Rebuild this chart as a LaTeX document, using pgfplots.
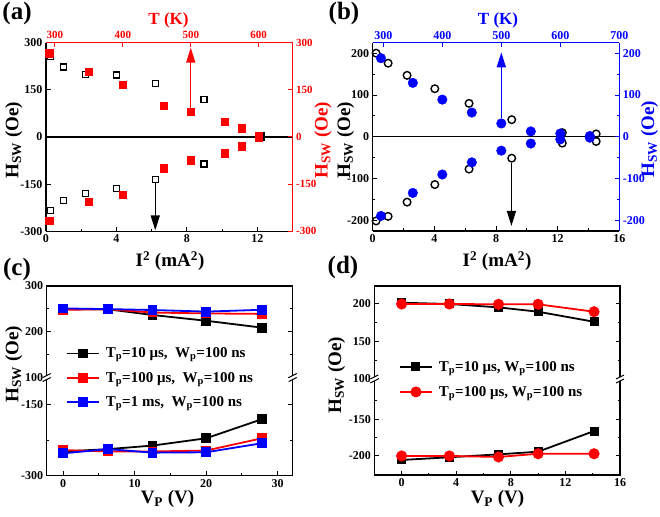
\documentclass[border=0pt]{standalone}
\usepackage{pgfplots}
\pgfplotsset{compat=1.18}
\usepackage{fontspec}
\setmainfont{Liberation Serif}
\usetikzlibrary{arrows.meta}
\definecolor{ored}{RGB}{255,0,0}
\definecolor{oblue}{RGB}{0,0,255}
\newcommand{\tkf}{\fontsize{12}{13}\selectfont\bfseries}
\newcommand{\tks}{\fontsize{11}{12}\selectfont\bfseries}
\newcommand{\lbf}{\fontsize{19}{20}\selectfont\bfseries}
\newcommand{\pnf}{\fontsize{25}{26}\selectfont\bfseries}
\newcommand{\lgf}{\fontsize{15}{16}\selectfont\bfseries}
\newcommand{\Hsw}{H\textsubscript{SW} (Oe)}
\pgfplotsset{
  base/.style={scale only axis, anchor=south west, tick align=inside,
    /pgf/number format/assume math mode=true,
    ticklabel style={font=\tkf},
    axis line style={line width=1.3pt},
    every tick/.style={line width=1pt},
    major tick length=4.5pt, minor tick length=2.5pt,
    clip=false},
  legimg/.style={legend image code/.code={
      \draw[##1,mark repeat=2,mark phase=2] plot coordinates {(0pt,0pt) (16pt,0pt) (32pt,0pt)};}},
  broken/.style={separate axis lines, axis line style={draw=none}},
}
\begin{document}
\begin{tikzpicture}[x=1pt,y=1pt]
\path[use as bounding box] (0,0) rectangle (660,516);

% ---------------- (a) ----------------
\begin{axis}[base, at={(46pt,284.7pt)}, width=246.7pt, height=188.7pt,
  xmin=0, xmax=14, ymin=-300, ymax=300,
  axis x line*=bottom, axis y line*=left,
  xtick={0,4,8,12}, minor xtick={2,6,10},
  ytick={-300,-150,0,150,300}]
  \draw[line width=1.2pt] (axis cs:0,0) -- (axis cs:14,0);
  \addplot[only marks, mark=square, mark size=3pt, line width=1.3pt, black] coordinates {
    (0.26,255) (1.0,222) (2.25,198) (4.0,197) (6.2,169) (8.96,119) (12.2,4)
    (0.26,-233) (1.0,-201) (2.25,-179) (4.0,-165) (6.2,-136) (8.96,-86) (12.2,-2)};
  \draw[line width=1.4pt, -{Triangle[length=15pt,width=9pt]}] (axis cs:6.2,-146) -- (axis cs:6.2,-297);
\end{axis}
\begin{axis}[base, at={(46pt,284.7pt)}, width=246.7pt, height=188.7pt,
  xmin=287, xmax=650, ymin=-300, ymax=300,
  axis x line*=top, axis y line*=right,
  axis line style={ored}, every tick/.append style={ored},
  ticklabel style={font=\tks, text=ored},
  xtick={300,400,500,600}, ytick={-300,-150,0,150,300}]
  \addplot[only marks, mark=square*, mark size=3.8pt, ored] coordinates {
    (292,266) (350,207) (400,166) (460,99) (500,80) (550,48) (575,28) (600,2)
    (292,-266) (350,-206) (400,-184) (460,-100) (500,-74) (550,-52) (575,-29) (600,-2)};
  \draw[ored, line width=1.4pt, -{Triangle[length=15pt,width=9pt]}] (axis cs:500,88) -- (axis cs:500,284);
\end{axis}

% ---------------- (b) ----------------
\begin{axis}[base, at={(372.7pt,285pt)}, width=246.6pt, height=188.3pt,
  xmin=0, xmax=16, ymin=-225, ymax=225,
  axis x line*=bottom, axis y line*=left,
  xtick={0,4,8,12,16}, minor xtick={2,6,10,14},
  ytick={-200,-100,0,100,200}, minor ytick={-150,-50,50,150}]
  \draw[line width=1.2pt] (axis cs:0,0) -- (axis cs:16,0);
  \addplot[only marks, mark=o, mark size=3.8pt, line width=1.4pt, black] coordinates {
    (0.22,200) (1.0,176) (2.23,147) (4.03,115) (6.25,80) (9.02,41) (12.3,10) (14.5,7)
    (0.22,-201) (1.0,-190) (2.23,-156) (4.03,-114) (6.25,-77) (9.02,-51) (12.3,-15) (14.5,-11)};
  \draw[line width=1.4pt, -{Triangle[length=15pt,width=9pt]}] (axis cs:9.0,-62) -- (axis cs:9.0,-213);
\end{axis}
\begin{axis}[base, at={(372.7pt,285pt)}, width=246.6pt, height=188.3pt,
  xmin=282, xmax=700, ymin=-225, ymax=225,
  axis x line*=top, axis y line*=right,
  axis line style={oblue}, every tick/.append style={oblue},
  ticklabel style={text=oblue},
  xtick={300,400,500,600,700}, ytick={-200,-100,0,100,200}, minor ytick={-150,-50,50,150}]
  \addplot[only marks, mark=*, mark size=4.8pt, oblue] coordinates {
    (296,188) (350,129) (400,89) (450,58) (500,32) (550,13) (600,8) (650,2)
    (296,-189) (350,-134) (400,-90) (450,-61) (500,-33) (550,-16) (600,-6) (650,-2)};
  \draw[oblue, line width=1.4pt, -{Triangle[length=15pt,width=9pt]}] (axis cs:500,46) -- (axis cs:500,202);
\end{axis}

% ---------------- (c) ----------------
\begin{axis}[base, broken, at={(46.7pt,138.5pt)}, width=246pt, height=91.5pt,
  xmin=-2.3, xmax=32.1, ymin=100, ymax=300,
  xtick=\empty, ytick={100,200,300}, minor ytick={150,250},
  ytick pos=both, yticklabel pos=left,
  legimg,
  legend style={at={(0.078,0.35)}, anchor=north west, draw=none, fill=none,
    font=\lgf, row sep=9pt, column sep=4pt, inner sep=0pt, cells={anchor=west}},
  legend cell align=left]
  \addplot[black, line width=1.8pt, mark=square*, mark size=4pt] coordinates {
    (0,249) (6.3,249) (12.5,236.6) (20,224) (27.8,209)};
  \addplot[ored, line width=1.8pt, mark=square*, mark size=4pt] coordinates {
    (0,248) (6.3,249) (12.5,242) (20,240) (27.8,239)};
  \addplot[oblue, line width=1.8pt, mark=square*, mark size=4pt] coordinates {
    (0,251) (6.3,249.5) (12.5,247.5) (20,244) (27.8,248)};
  \legend{{T\textsubscript{p}=10 μs,~ W\textsubscript{p}=100 ns},
          {T\textsubscript{p}=100 μs,~ W\textsubscript{p}=100 ns},
          {T\textsubscript{p}=1 ms,~ W\textsubscript{p}=100 ns}}
\end{axis}
\begin{axis}[base, broken, at={(46.7pt,40.5pt)}, width=246pt, height=98pt,
  xmin=-2.3, xmax=32.1, ymin=-300, ymax=-92,
  xtick={0,10,20,30}, minor xtick={5,15,25}, xtick pos=left,
  ytick={-300,-150}, minor ytick={-225},
  ytick pos=both, yticklabel pos=left]
  \addplot[black, line width=1.8pt, mark=square*, mark size=4pt] coordinates {
    (0,-249) (6.3,-244) (12.5,-236.5) (20,-221) (27.8,-180.5)};
  \addplot[ored, line width=1.8pt, mark=square*, mark size=4pt] coordinates {
    (0,-246) (6.3,-249) (12.5,-249) (20,-247) (27.8,-221)};
  \addplot[oblue, line width=1.8pt, mark=square*, mark size=4pt] coordinates {
    (0,-253) (6.3,-244) (12.5,-251.5) (20,-250.7) (27.8,-231.5)};
\end{axis}
\draw[line width=1.3pt] (46.7,40.5) rectangle (292.7,230);
\foreach \bx in {46.7,292.7}{
  \fill[white] (\bx-4,136.5) rectangle (\bx+4,140.5);
  \draw[line width=1pt] (\bx-4,134.5) -- (\bx+4,138.5);
  \draw[line width=1pt] (\bx-4,138.5) -- (\bx+4,142.5);
}

% ---------------- (d) ----------------
\begin{axis}[base, broken, at={(374.3pt,137pt)}, width=245.7pt, height=93pt,
  xmin=-2, xmax=16, ymin=100, ymax=224,
  xtick=\empty, ytick={100,150,200}, minor ytick={125,175},
  ytick pos=both, yticklabel pos=left,
  legimg,
  legend style={at={(0.1,0.215)}, anchor=north west, draw=none, fill=none,
    font=\lgf, row sep=9.5pt, column sep=4pt, inner sep=0pt, cells={anchor=west}},
  legend cell align=left]
  \addplot[black, line width=1.8pt, mark=square*, mark size=3.6pt] coordinates {
    (0,201.7) (3.5,200) (7.1,195.5) (10,189.7) (14.1,176.3)};
  \addplot[ored, line width=1.8pt, mark=*, mark size=4.6pt] coordinates {
    (0,200) (3.5,200) (7.1,199.6) (10,199.6) (14.1,189.7)};
  \legend{{T\textsubscript{p}=10 μs, W\textsubscript{p}=100 ns},
          {T\textsubscript{p}=100 μs, W\textsubscript{p}=100 ns}}
\end{axis}
\begin{axis}[base, broken, at={(374.3pt,41pt)}, width=245.7pt, height=96pt,
  xmin=-2, xmax=16, ymin=-226, ymax=-95,
  xtick={0,4,8,12,16}, minor xtick={2,6,10,14}, xtick pos=left,
  ytick={-200,-150}, minor ytick={-175,-125},
  ytick pos=both, yticklabel pos=left]
  \addplot[black, line width=1.8pt, mark=square*, mark size=3.6pt] coordinates {
    (0,-205.5) (3.5,-201.8) (7.1,-197.8) (10,-194.2) (14.1,-166)};
  \addplot[ored, line width=1.8pt, mark=*, mark size=4.6pt] coordinates {
    (0,-200) (3.5,-200) (7.1,-201.4) (10,-197) (14.1,-197)};
\end{axis}
\draw[line width=1.3pt] (374.3,41) rectangle (620,230);
\foreach \bx in {374.3,620}{
  \fill[white] (\bx-4,135) rectangle (\bx+4,139);
  \draw[line width=1pt] (\bx-4,133) -- (\bx+4,137);
  \draw[line width=1pt] (\bx-4,137) -- (\bx+4,141);
}

% ---------------- labels ----------------
\node[font=\pnf] at (17,503) {(a)};
\node[font=\pnf] at (344,503) {(b)};
\node[font=\pnf] at (17,247) {(c)};
\node[font=\pnf] at (343,248.5) {(d)};
\node[font=\fontsize{17}{18}\selectfont\bfseries, text=ored, anchor=base] at (168.5,491) {T (K)};
\node[font=\fontsize{17}{18}\selectfont\bfseries, text=oblue, anchor=base] at (498,491) {T (K)};
\node[font=\lbf, anchor=base] at (170,249.3) {I\textsuperscript{2} (mA\textsuperscript{2})};
\node[font=\lbf, anchor=base] at (497,249.3) {I\textsuperscript{2} (mA\textsuperscript{2})};
\node[font=\lbf, rotate=90, anchor=base] at (18.3,376) {\Hsw};
\node[font=\lbf, rotate=90, anchor=base, text=ored] at (327.5,376) {\Hsw};
\node[font=\lbf, rotate=90, anchor=base] at (350,376) {\Hsw};
\node[font=\lbf, rotate=90, anchor=base, text=oblue] at (654,377) {\Hsw};
\node[font=\lbf, rotate=90, anchor=base] at (18.3,152) {\Hsw};
\node[font=\lbf, rotate=90, anchor=base] at (341,141) {\Hsw};
\node[font=\lbf, anchor=base] at (167.5,12.7) {V\textsubscript{P} (V)};
\node[font=\lbf, anchor=base] at (497.5,12.7) {V\textsubscript{P} (V)};
\end{tikzpicture}
\end{document}
